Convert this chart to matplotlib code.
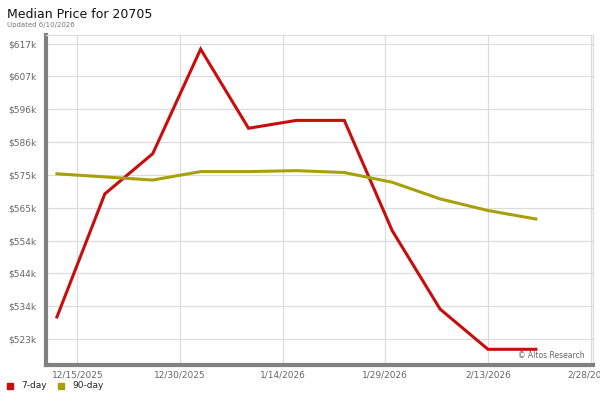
import matplotlib
matplotlib.use("Agg")
import matplotlib.pyplot as plt
import matplotlib.dates as mdates
from datetime import datetime, timedelta

dates = ["2025-12-12", "2025-12-19", "2025-12-26", "2026-01-02", "2026-01-09",
         "2026-01-16", "2026-01-23", "2026-01-30", "2026-02-06", "2026-02-13", "2026-02-20"]
seven_day = [530600, 569800, 582600, 615900, 590700, 593200, 593200, 558100, 533100, 520300, 520300]
ninety_day = [576200, 575200, 574200, 576900, 576900, 577200, 576600, 573500, 568200, 564500, 561800]

ytick_values = [523600, 534050, 544500, 554950, 565400, 575850, 586300, 596750, 607200, 617650]
ytick_labels = ["$523k", "$534k", "$544k", "$554k", "$565k", "$575k", "$586k", "$596k", "$607k", "$617k"]
xtick_dates = ["2025-12-15", "2025-12-30", "2026-01-14", "2026-01-29", "2026-02-13", "2026-02-28"]
xtick_labels = ["12/15/2025", "12/30/2025", "1/14/2026", "1/29/2026", "2/13/2026", "2/28/2026"]

RED = "#c80d0d"
OLIVE = "#a8a00a"

x = [datetime.strptime(d, "%Y-%m-%d") for d in dates]
xt = [datetime.strptime(d, "%Y-%m-%d") for d in xtick_dates]

fig = plt.figure(figsize=(6, 4), dpi=100)
ax = fig.add_axes([46/600, 35/400, (593-46)/600, (365-35)/400])

ax.plot(x, seven_day, color=RED, lw=2.2, solid_joinstyle="miter", zorder=3)
ax.plot(x, ninety_day, color=OLIVE, lw=2.2, zorder=3)

x0 = datetime(2025, 12, 15) - timedelta(days=4.6)
x1 = datetime(2026, 2, 28) + timedelta(days=0.35)
ax.set_xlim(x0, x1)
ax.set_ylim(515300, 620400)

ax.set_yticks(ytick_values)
ax.set_yticklabels(ytick_labels)
ax.set_xticks(xt)
ax.set_xticklabels(xtick_labels)
ax.tick_params(axis="both", length=0, labelsize=6.5, colors="#666666")
ax.tick_params(axis="y", pad=7)
ax.tick_params(axis="x", pad=4)
ax.grid(True, color="#dcdcdc", lw=0.9, zorder=0)

for s in ["top", "right"]:
    ax.spines[s].set_color("#dcdcdc")
    ax.spines[s].set_linewidth(0.9)
for s in ["left", "bottom"]:
    ax.spines[s].set_color("#808080")
    ax.spines[s].set_linewidth(3)

ax.text(0.985, 0.03, "© Altos Research", transform=ax.transAxes, ha="right", va="center",
        fontsize=5.5, color="#666666")

fig.text(7/600, 1 - 14/400, "Median Price for 20705", fontsize=9, color="#111111", va="center", ha="left")
fig.text(7/600, 1 - 25/400, "Updated 6/10/2026", fontsize=5, color="#777777", va="center", ha="left")

# legend
ly = 1 - 386/400
fig.patches.append(plt.Rectangle((7/600, ly - 3/400), 6/600, 6/400, transform=fig.transFigure,
                                 color=RED, figure=fig))
fig.text(21/600, ly, "7-day", fontsize=6.5, color="#222222", va="center", ha="left")
fig.patches.append(plt.Rectangle((58/600, ly - 3/400), 6/600, 6/400, transform=fig.transFigure,
                                 color=OLIVE, figure=fig))
fig.text(72/600, ly, "90-day", fontsize=6.5, color="#222222", va="center", ha="left")

fig.savefig("out.png", dpi=100)
